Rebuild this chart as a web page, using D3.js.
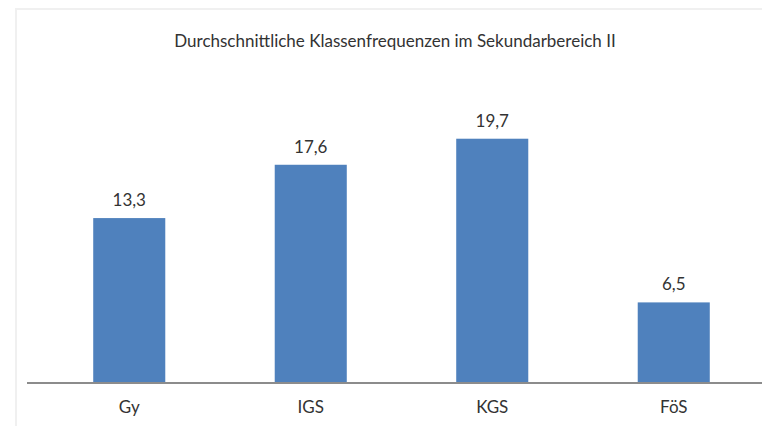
<!DOCTYPE html>
<html>
<head>
<meta charset="utf-8">
<script src="https://cdn.jsdelivr.net/npm/d3@7"></script>
<style>
  html, body { margin: 0; padding: 0; background: #fff; }
  svg { display: block; }
  text { font-family: Lato, "Open Sans", sans-serif; fill: #333; }
</style>
</head>
<body>
<div id="chart"></div>
<script>
(function () {
    'use strict';

    // chart data
    var title = 'Durchschnittliche Klassenfrequenzen im Sekundarbereich II';
    var categories = ['Gy', 'IGS', 'KGS', 'FöS'];
    var values = [13.3, 17.6, 19.7, 6.5];

    var width = 762;
    var height = 426;
    var baseY = 383;

    var svg = d3.select('#chart').append('svg')
        .attr('width', width)
        .attr('height', height);

    // faint frame of the pasted chart
    svg.append('path')
        .attr('d', 'M16,' + height + 'V9H' + width)
        .attr('fill', 'none')
        .attr('stroke', '#f0f0f0')
        .attr('stroke-width', 2);

    var x = d3.scaleBand()
        .domain(categories)
        .range([38.5, 764.5])
        .paddingInner(0.603)
        .paddingOuter(0.3015);

    var y = d3.scaleLinear()
        .domain([0, 20])
        .range([baseY, baseY - 248]);

    svg.append('text')
        .attr('x', 395)
        .attr('y', 47)
        .attr('text-anchor', 'middle')
        .style('font-size', '17px')
        .text(title);

    svg.selectAll('.bar')
        .data(values)
        .enter()
        .append('rect')
        .attr('class', 'bar')
        .attr('x', function (d, i) { return x(categories[i]); })
        .attr('y', function (d) { return y(d); })
        .attr('width', x.bandwidth())
        .attr('height', function (d) { return y(0) - y(d); })
        .attr('fill', '#4f81bd');

    svg.selectAll('.value')
        .data(values)
        .enter()
        .append('text')
        .attr('class', 'value')
        .attr('x', function (d, i) { return x(categories[i]) + x.bandwidth() / 2; })
        .attr('y', function (d) { return y(d) - 12; })
        .attr('text-anchor', 'middle')
        .style('font-size', '17px')
        .text(function (d) { return d3.format('.1f')(d).replace('.', ','); });

    // baseline + category labels
    var axis = svg.append('g')
        .attr('transform', 'translate(0,' + baseY + ')')
        .call(d3.axisBottom(x).tickSize(0).tickPadding(18));
    axis.select('.domain')
        .attr('d', 'M27,0H' + width)
        .attr('stroke', '#8c8c8c')
        .attr('stroke-width', 2);
    axis.selectAll('text')
        .style('font-family', 'Lato, "Open Sans", sans-serif')
        .style('font-size', '17px')
        .attr('fill', '#333');
})();
</script>
</body>
</html>
